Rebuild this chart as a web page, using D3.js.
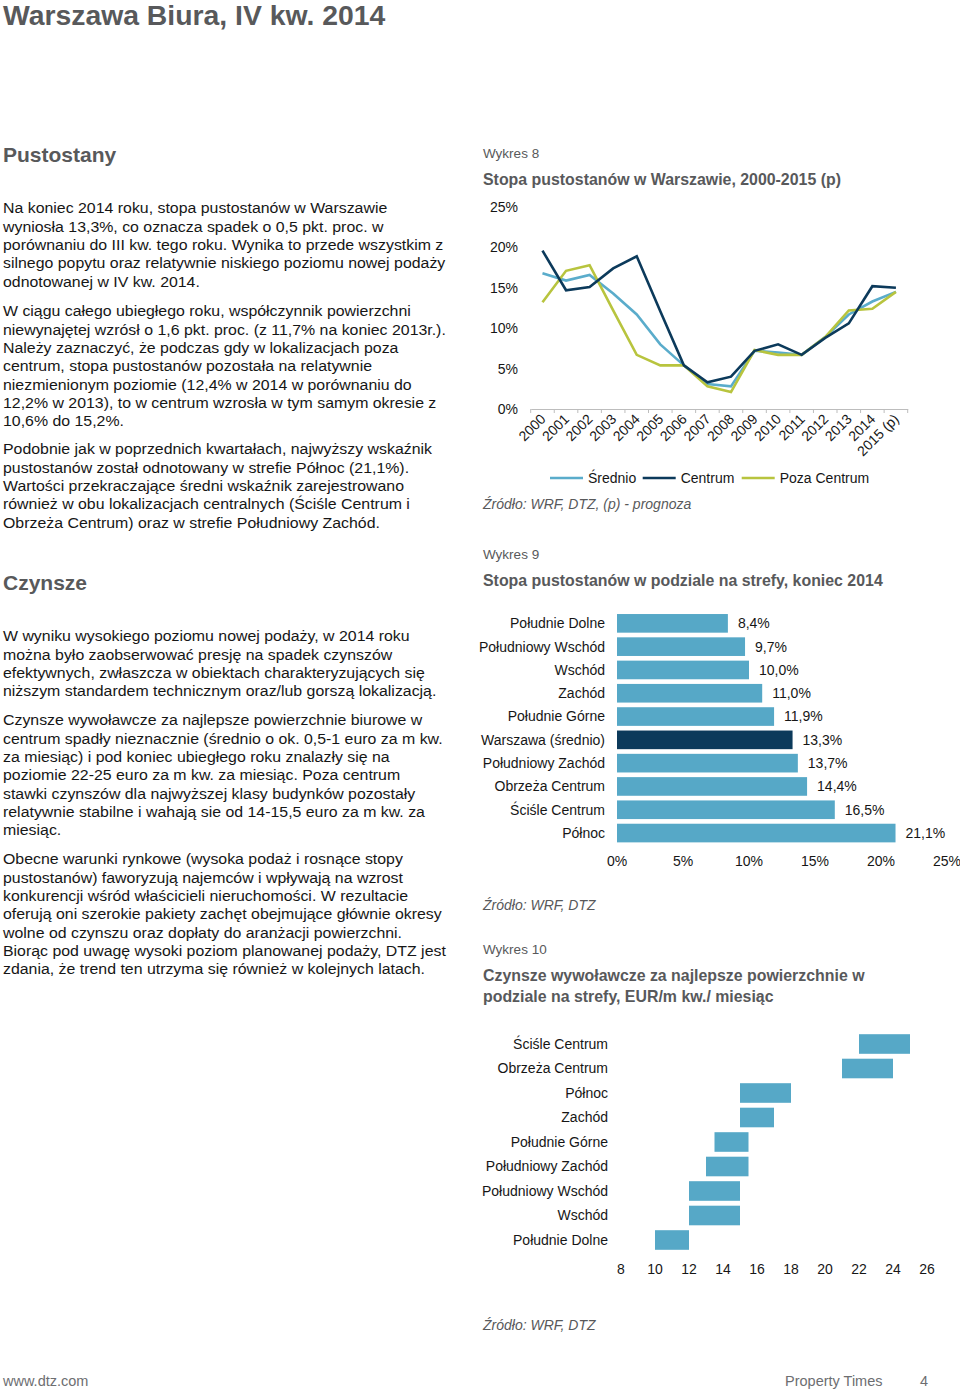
<!DOCTYPE html>
<html><head><meta charset="utf-8">
<script src="https://cdn.jsdelivr.net/npm/d3@7"></script>
<style>
html,body{margin:0;padding:0;background:#fff;}
svg{display:block;font-family:"Liberation Sans",Arial,sans-serif;}
</style></head>
<body><svg id="c" width="960" height="1390"></svg>
<script>
// ---------- DATA ----------
const years = ["2000","2001","2002","2003","2004","2005","2006","2007","2008","2009","2010","2011","2012","2013","2014","2015 (p)"];
const srednio = [16.8,15.9,16.6,14.3,11.7,8.0,5.4,3.1,2.8,7.2,7.0,6.7,8.9,11.7,13.3,14.5];
const centrum = [19.6,14.7,15.1,17.4,18.9,12.1,5.4,3.3,4.0,7.2,8.0,6.7,8.8,10.6,15.2,15.0];
const pozaCentrum = [13.2,17.1,17.8,12.2,6.7,5.4,5.4,2.8,2.1,7.3,6.7,6.7,8.9,12.2,12.4,14.5];
const pctTicks = [0,5,10,15,20,25];

const zones9 = ["Południe Dolne","Południowy Wschód","Wschód","Zachód","Południe Górne","Warszawa (średnio)","Południowy Zachód","Obrzeża Centrum","Ściśle Centrum","Północ"];
const vacancy9 = [8.4,9.7,10.0,11.0,11.9,13.3,13.7,14.4,16.5,21.1];

const zones10 = ["Ściśle Centrum","Obrzeża Centrum","Północ","Zachód","Południe Górne","Południowy Zachód","Południowy Wschód","Wschód","Południe Dolne"];
const rentLow = [22,21,15,15,13.5,13,12,12,10];
const rentHigh = [25,24,18,17,15.5,15.5,15,15,12];
const rentTicks = [8,10,12,14,16,18,20,22,24,26];

const para1 = ["Na koniec 2014 roku, stopa pustostanów w Warszawie","wyniosła 13,3%, co oznacza spadek o 0,5 pkt. proc. w","porównaniu do III kw. tego roku. Wynika to przede wszystkim z","silnego popytu oraz relatywnie niskiego poziomu nowej podaży","odnotowanej w IV kw. 2014."];
const para2 = ["W ciągu całego ubiegłego roku, współczynnik powierzchni","niewynajętej wzrósł o 1,6 pkt. proc. (z 11,7% na koniec 2013r.).","Należy zaznaczyć, że podczas gdy w lokalizacjach poza","centrum, stopa pustostanów pozostała na relatywnie","niezmienionym poziomie (12,4% w 2014 w porównaniu do","12,2% w 2013), to w centrum wzrosła w tym samym okresie z","10,6% do 15,2%."];
const para3 = ["Podobnie jak w poprzednich kwartałach, najwyższy wskaźnik","pustostanów został odnotowany w strefie Północ (21,1%).","Wartości przekraczające średni wskaźnik zarejestrowano","również w obu lokalizacjach centralnych (Ściśle Centrum i","Obrzeża Centrum) oraz w strefie Południowy Zachód."];
const para4 = ["W wyniku wysokiego poziomu nowej podaży, w 2014 roku","można było zaobserwować presję na spadek czynszów","efektywnych, zwłaszcza w obiektach charakteryzujących się","niższym standardem technicznym oraz/lub gorszą lokalizacją."];
const para5 = ["Czynsze wywoławcze za najlepsze powierzchnie biurowe w","centrum spadły nieznacznie (średnio o ok. 0,5-1 euro za m kw.","za miesiąc) i pod koniec ubiegłego roku znalazły się na","poziomie 22-25 euro za m kw. za miesiąc. Poza centrum","stawki czynszów dla najwyższej klasy budynków pozostały","relatywnie stabilne i wahają sie od 14-15,5 euro za m kw. za","miesiąc."];
const para6 = ["Obecne warunki rynkowe (wysoka podaż i rosnące stopy","pustostanów) faworyzują najemców i wpływają na wzrost","konkurencji wśród właścicieli nieruchomości. W rezultacie","oferują oni szerokie pakiety zachęt obejmujące głównie okresy","wolne od czynszu oraz dopłaty do aranżacji powierzchni.","Biorąc pod uwagę wysoki poziom planowanej podaży, DTZ jest","zdania, że trend ten utrzyma się również w kolejnych latach."];

// ---------- STYLE ----------
const C_LIGHT = "#5aaccb", C_DARK = "#0c3a5b", C_GREEN = "#b8c43e", C_BAR = "#56a8c7";
const GRAY_H = "#58595b", TXT = "#161616";

const svg = d3.select("#c");
svg.append("rect").attr("width",960).attr("height",1390).attr("fill","#fff");

// ---------- LEFT COLUMN TEXT ----------
svg.append("text").attr("transform","translate(3,24.5) scale(1.05,1)").attr("font-size",27).attr("font-weight","bold").attr("fill",GRAY_H).text("Warszawa Biura, IV kw. 2014");
svg.append("text").attr("x",3).attr("y",162).attr("font-size",21).attr("font-weight","bold").attr("fill",GRAY_H).text("Pustostany");
svg.append("text").attr("x",3).attr("y",590).attr("font-size",21).attr("font-weight","bold").attr("fill",GRAY_H).text("Czynsze");

function para(lines, y0){
  svg.append("g").selectAll("text").data(lines).join("text")
    .attr("transform",(d,i)=>`translate(3,${y0+i*18.35}) scale(1.06,1)`).attr("dy","0.35em")
    .attr("font-size",15).attr("fill",TXT).text(d=>d);
}
para(para1,208); para(para2,311); para(para3,449);
para(para4,636); para(para5,720); para(para6,859);

// footer
svg.append("text").attr("x",3).attr("y",1381).attr("dy","0.35em").attr("font-size",14.5).attr("fill","#6d6e71").text("www.dtz.com");
svg.append("text").attr("x",785).attr("y",1381).attr("dy","0.35em").attr("font-size",14.5).attr("fill","#6d6e71").text("Property Times");
svg.append("text").attr("x",920).attr("y",1381).attr("dy","0.35em").attr("font-size",14.5).attr("fill","#6d6e71").text("4");

// ---------- CHART HEADERS ----------
function header(y1, num, titleLines){
  svg.append("text").attr("x",483).attr("y",y1).attr("dy","0.35em").attr("font-size",13.5).attr("fill",GRAY_H).text("Wykres "+num);
  titleLines.forEach((t,i)=>svg.append("text").attr("x",483).attr("y",y1+26+i*21).attr("dy","0.35em")
    .attr("font-size",15.9).attr("font-weight","bold").attr("fill",GRAY_H).text(t));
}
function source(y, t){
  svg.append("text").attr("x",483).attr("y",y).attr("dy","0.35em").attr("font-size",14).attr("font-style","italic").attr("fill","#58595b").text(t);
}
header(153,8,["Stopa pustostanów w Warszawie, 2000-2015 (p)"]);
header(554,9,["Stopa pustostanów w podziale na strefy, koniec 2014"]);
header(949,10,["Czynsze wywoławcze za najlepsze powierzchnie w","podziale na strefy, EUR/m kw./ miesiąc"]);
source(504,"Źródło: WRF, DTZ, (p) - prognoza");
source(905,"Źródło: WRF, DTZ");
source(1325,"Źródło: WRF, DTZ");

// ---------- CHART 8: LINES ----------
const x8 = d3.scaleBand().domain(years).range([530.7,907.7]);
const y8 = d3.scaleLinear().domain([0,25]).range([409,207]);
const g8 = svg.append("g");
g8.selectAll("text.yl").data(pctTicks).join("text").attr("class","yl")
  .attr("x",518).attr("y",d=>y8(d)).attr("dy","0.35em").attr("text-anchor","end")
  .attr("font-size",14).attr("fill",TXT).text(d=>d+"%");
const xa = g8.append("g").attr("transform","translate(0,409)")
  .call(d3.axisBottom(x8).tickSize(0).tickFormat(""));
xa.select(".domain").attr("stroke","#bdbdbd");
const edges = years.map(d=>x8(d)).concat([x8.range()[1]]);
g8.selectAll("line.tk").data(edges).join("line").attr("class","tk")
  .attr("x1",d=>d).attr("x2",d=>d).attr("y1",409).attr("y2",413).attr("stroke","#bdbdbd");
g8.selectAll("text.xl").data(years).join("text").attr("class","xl")
  .attr("transform",d=>`translate(${x8(d)+x8.bandwidth()/2+4},420) rotate(-45)`)
  .attr("text-anchor","end").attr("font-size",14).attr("fill",TXT).text(d=>d);
const line8 = d3.line().x((d,i)=>x8(years[i])+x8.bandwidth()/2).y(d=>y8(d));
const series = [{n:"Średnio",v:srednio,c:C_LIGHT},{n:"Centrum",v:centrum,c:C_DARK},{n:"Poza Centrum",v:pozaCentrum,c:C_GREEN}];
[series[0],series[2],series[1]].forEach(s=>{
  g8.append("path").datum(s.v).attr("d",line8).attr("fill","none").attr("stroke",s.c)
    .attr("stroke-width",2.6).attr("stroke-linejoin","miter");
});
const legX = [550,642.7,741.7];
series.forEach((s,i)=>{
  g8.append("line").attr("x1",legX[i]).attr("x2",legX[i]+33).attr("y1",478).attr("y2",478).attr("stroke",s.c).attr("stroke-width",2.6);
  g8.append("text").attr("x",legX[i]+38).attr("y",478).attr("dy","0.35em").attr("font-size",14).attr("fill",TXT).text(s.n);
});

// ---------- CHART 9: BARS ----------
const y9 = d3.scaleBand().domain(zones9).range([611.7,844.7]).paddingInner(0.2).paddingOuter(0.1);
const x9 = d3.scaleLinear().domain([0,25]).range([617,947]);
const g9 = svg.append("g");
g9.selectAll("rect").data(zones9).join("rect")
  .attr("x",x9(0)).attr("y",d=>y9(d)).attr("height",y9.bandwidth())
  .attr("width",(d,i)=>x9(vacancy9[i])-x9(0))
  .attr("fill",d=>d==="Warszawa (średnio)"?C_DARK:C_BAR);
g9.selectAll("text.cat").data(zones9).join("text").attr("class","cat")
  .attr("x",605).attr("y",d=>y9(d)+y9.bandwidth()/2).attr("dy","0.35em").attr("text-anchor","end")
  .attr("font-size",14).attr("fill",TXT).text(d=>d);
g9.selectAll("text.val").data(zones9).join("text").attr("class","val")
  .attr("x",(d,i)=>x9(vacancy9[i])+10).attr("y",d=>y9(d)+y9.bandwidth()/2).attr("dy","0.35em")
  .attr("font-size",14).attr("fill",TXT).text((d,i)=>vacancy9[i].toFixed(1).replace(".",",")+"%");
g9.selectAll("text.xt").data(pctTicks).join("text").attr("class","xt")
  .attr("x",d=>x9(d)).attr("y",861).attr("dy","0.35em").attr("text-anchor","middle")
  .attr("font-size",14).attr("fill",TXT).text(d=>d+"%");

// ---------- CHART 10: RANGES ----------
const y10 = d3.scaleBand().domain(zones10).range([1031.75,1252.25]).paddingInner(0.2).paddingOuter(0.1);
const x10 = d3.scaleLinear().domain([8,26]).range([621,927]);
const g10 = svg.append("g");
g10.selectAll("rect").data(zones10).join("rect")
  .attr("x",(d,i)=>x10(rentLow[i])).attr("y",d=>y10(d)).attr("height",y10.bandwidth())
  .attr("width",(d,i)=>x10(rentHigh[i])-x10(rentLow[i])).attr("fill",C_BAR);
g10.selectAll("text.cat").data(zones10).join("text").attr("class","cat")
  .attr("x",608).attr("y",d=>y10(d)+y10.bandwidth()/2).attr("dy","0.35em").attr("text-anchor","end")
  .attr("font-size",14).attr("fill",TXT).text(d=>d);
g10.selectAll("text.xt").data(rentTicks).join("text").attr("class","xt")
  .attr("x",d=>x10(d)).attr("y",1269).attr("dy","0.35em").attr("text-anchor","middle")
  .attr("font-size",14).attr("fill",TXT).text(d=>d);
</script></body></html>
